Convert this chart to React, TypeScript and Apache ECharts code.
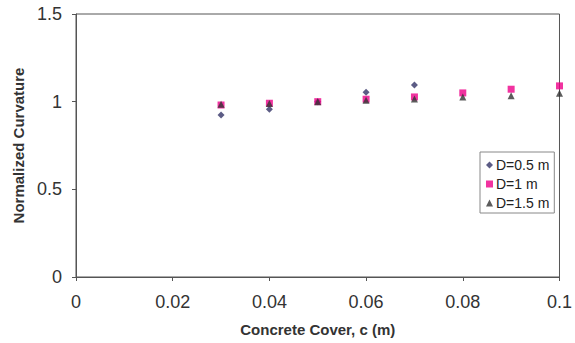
import React, { useEffect, useRef } from "react";
import * as echarts from "echarts";

const xD05 = [0.03, 0.04, 0.05, 0.06, 0.07];
const yD05 = [0.924, 0.957, 1.0, 1.054, 1.095];
const xD1 = [0.03, 0.04, 0.05, 0.06, 0.07, 0.08, 0.09, 0.1];
const yD1 = [0.981, 0.991, 1.0, 1.014, 1.027, 1.05, 1.071, 1.09];
const xD15 = [0.03, 0.04, 0.05, 0.06, 0.07, 0.08, 0.09, 0.1];
const yD15 = [0.985, 0.99, 1.0, 1.008, 1.015, 1.027, 1.034, 1.048];
const seriesNames = ["D=0.5 m", "D=1 m", "D=1.5 m"];

const pair = (xs: number[], ys: number[]) => xs.map((x, i) => [x, ys[i]]);

export default function App() {
  const ref = useRef<HTMLDivElement>(null);
  useEffect(() => {
    if (!ref.current) return;
    const chart = echarts.init(ref.current, null, { renderer: "svg" });
    const font = "Liberation Sans, Arial, sans-serif";
    const fmt = (v: number) => String(parseFloat(v.toFixed(3)));
    chart.setOption({
      animation: false,
      backgroundColor: "#ffffff",
      textStyle: { fontFamily: font },
      grid: {
        left: 76,
        top: 14,
        right: 12,
        bottom: 66,
        show: true,
        borderColor: "#555555",
        borderWidth: 1,
        backgroundColor: "transparent",
      },
      legend: {
        orient: "vertical",
        left: 480,
        top: 152,
        data: seriesNames,
        backgroundColor: "#ffffff",
        borderColor: "#888888",
        borderWidth: 1,
        borderRadius: 0,
        padding: [6, 5, 3, 6],
        itemWidth: 7,
        itemHeight: 7,
        itemGap: 5,
        textStyle: { fontSize: 14, color: "#222222", fontFamily: font, padding: [0, 0, 0, -2] },
      },
      xAxis: {
        type: "value",
        min: 0,
        max: 0.1,
        interval: 0.02,
        name: "Concrete Cover, c (m)",
        nameLocation: "middle",
        nameGap: 45,
        nameTextStyle: { fontSize: 15, fontWeight: "bold", color: "#333333", fontFamily: font },
        axisLine: { show: true, lineStyle: { color: "#555555" } },
        axisTick: { show: true, length: 4, lineStyle: { color: "#555555" } },
        axisLabel: { fontSize: 18, color: "#333333", margin: 16, formatter: fmt, fontFamily: font },
        splitLine: { show: false },
      },
      yAxis: {
        type: "value",
        min: 0,
        max: 1.5,
        interval: 0.5,
        name: "Normalized Curvature",
        nameLocation: "middle",
        nameGap: 48,
        nameTextStyle: { fontSize: 15, fontWeight: "bold", color: "#333333", fontFamily: font },
        axisLine: { show: true, lineStyle: { color: "#555555" } },
        axisTick: { show: true, length: 4, lineStyle: { color: "#555555" } },
        axisLabel: { fontSize: 18, color: "#333333", margin: 14, formatter: fmt, fontFamily: font },
        splitLine: { show: false },
      },
      series: [
        {
          name: seriesNames[0],
          type: "scatter",
          symbol: "diamond",
          symbolSize: 7,
          itemStyle: { color: "#333366" },
          data: pair(xD05, yD05),
        },
        {
          name: seriesNames[1],
          type: "scatter",
          symbol: "rect",
          symbolSize: 7,
          itemStyle: { color: "#ee0088" },
          data: pair(xD1, yD1),
        },
        {
          name: seriesNames[2],
          type: "scatter",
          symbol: "triangle",
          symbolSize: 7,
          itemStyle: { color: "#333333" },
          data: pair(xD15, yD15),
        },
      ],
    });
    return () => chart.dispose();
  }, []);
  return <div ref={ref} style={{ width: 575, height: 343, position: "absolute", left: 0, top: 0 }} />;
}
